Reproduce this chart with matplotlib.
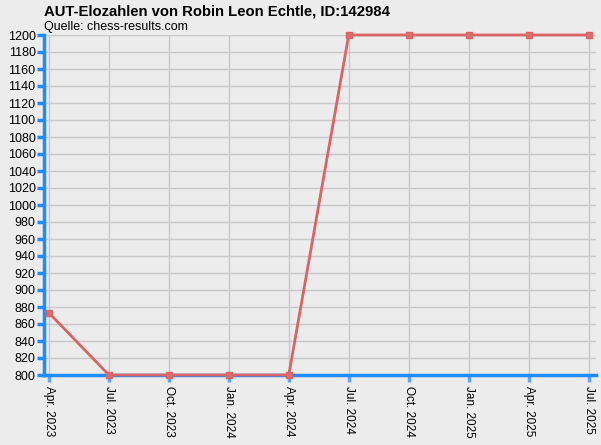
import matplotlib
matplotlib.use("Agg")
import matplotlib.pyplot as plt

dates = ["Apr. 2023", "Jul. 2023", "Oct. 2023", "Jan. 2024", "Apr. 2024",
         "Jul. 2024", "Oct. 2024", "Jan. 2025", "Apr. 2025", "Jul. 2025"]
elo = [873, 800, 800, 800, 800, 1200, 1200, 1200, 1200, 1200]
yticks = list(range(800, 1201, 20))

plt.rcParams['font.family'] = ['Liberation Sans', 'DejaVu Sans']
bg = '#ececec'
fig = plt.figure(figsize=(6.01, 4.45), dpi=100, facecolor=bg)
ax = fig.add_axes([44/601, 70/445, 552/601, 340/445], facecolor=bg)

x = list(range(len(dates)))
ax.plot(x, elo, color='#d96464', lw=2, marker='s', ms=4, mfc='#d97070', mec='#d96464', zorder=3, clip_on=False)

ax.set_xlim(-5/60, 9 + 7.5/60)
ax.set_ylim(800, 1200)
ax.set_yticks(yticks)
ax.set_yticklabels([str(v) for v in yticks], fontsize=9)
ax.set_xticks(x)
ax.set_xticklabels(dates, rotation=270, fontsize=8.5, va='top', ha='center')

ax.grid(True, color='#c8c8c8', lw=1)
ax.set_axisbelow(True)
for s in ['top', 'right']:
    ax.spines[s].set_visible(False)
for s in ['left', 'bottom']:
    ax.spines[s].set_color('#1e8cff')
    ax.spines[s].set_linewidth(2.5)
ax.tick_params(axis='y', colors='#1e8cff', length=5, width=2.5, labelcolor='black', pad=1)
ax.tick_params(axis='x', colors='#5aa8ff', length=5, width=2.5, labelcolor='black', pad=3)

fig.text(44/601, 1 - 11/445, "AUT-Elozahlen von Robin Leon Echtle, ID:142984",
         fontsize=10.7, fontweight='bold', va='center', ha='left')
fig.text(44/601, 1 - 27/445, "Quelle: chess-results.com", fontsize=9, va='center', ha='left')

fig.savefig("out.png", dpi=100, facecolor=bg)
